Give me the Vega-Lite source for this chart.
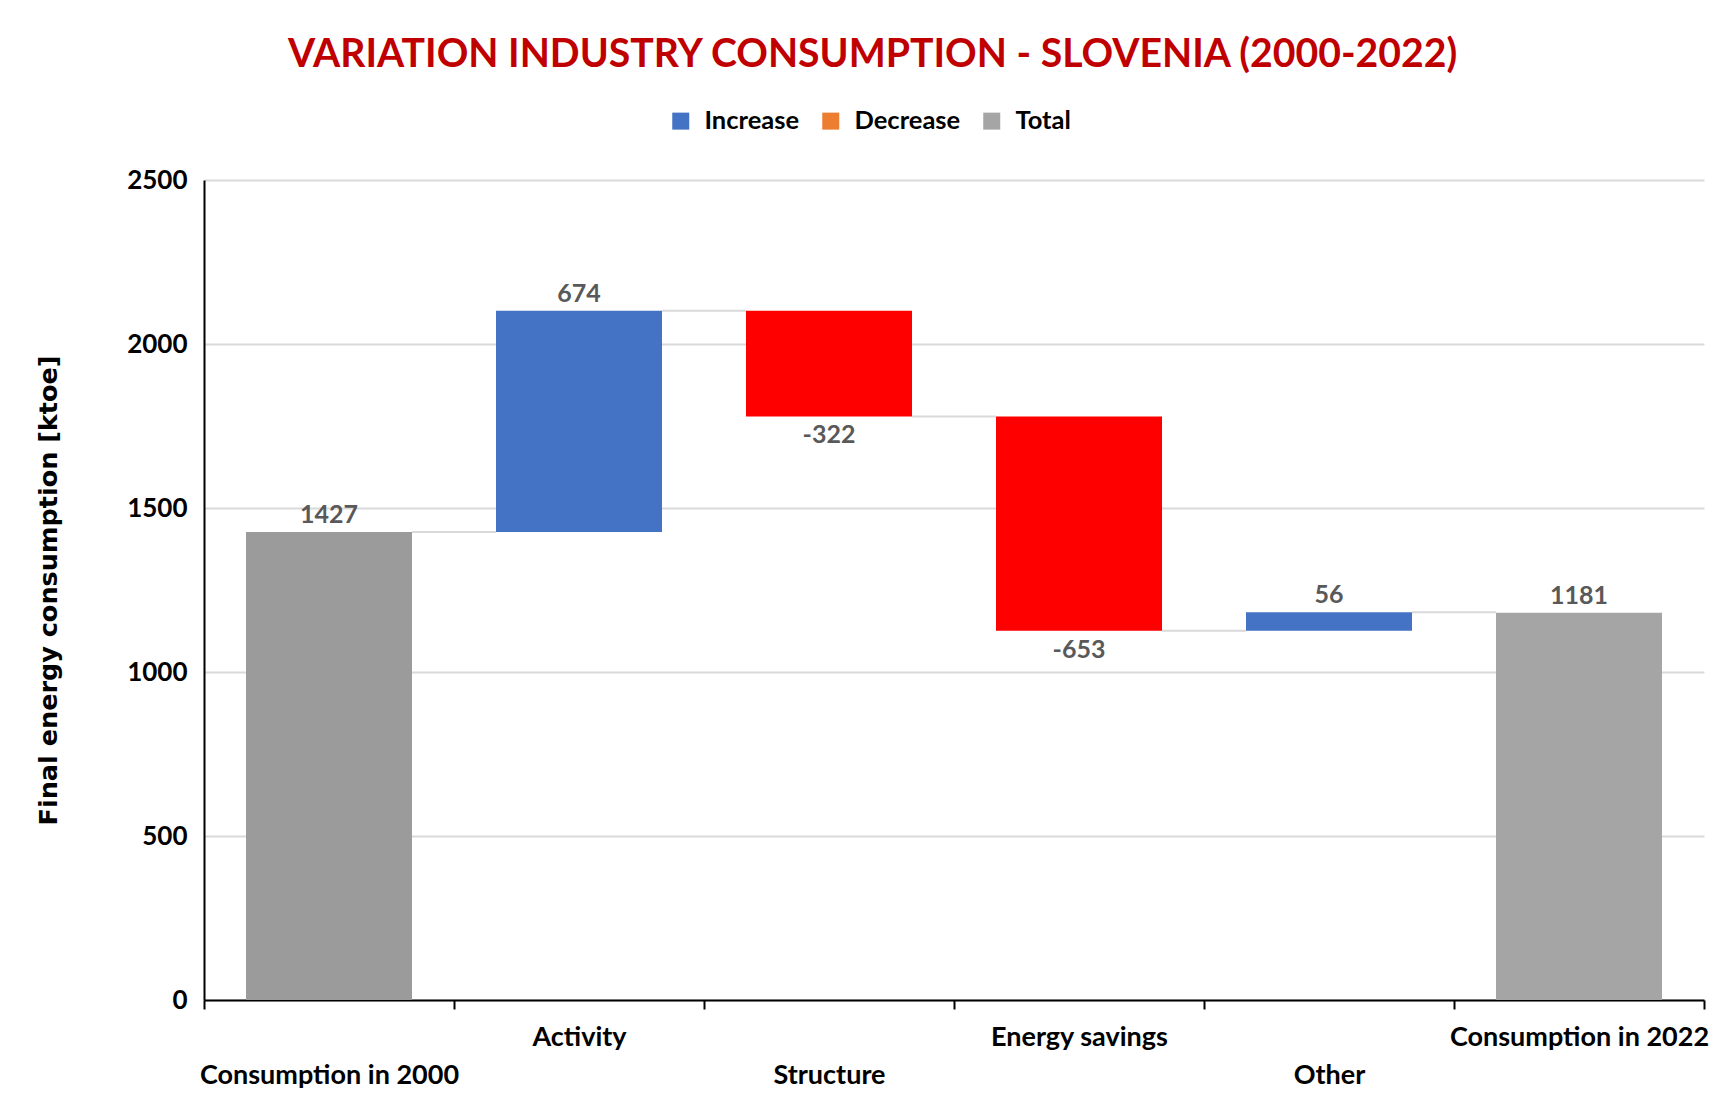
{
  "$schema": "https://vega.github.io/schema/vega-lite/v6.json",
  "width": 1500,
  "height": 820,
  "autosize": {"type": "none"},
  "padding": {"left": 204, "top": 180, "right": 5, "bottom": 97},
  "background": "white",
  "title": {
    "text": "VARIATION INDUSTRY CONSUMPTION - SLOVENIA (2000-2022)",
    "font": "Lato",
    "fontSize": 39.2,
    "fontWeight": "bold",
    "color": "#C00000",
    "anchor": "middle",
    "frame": "bounds",
    "offset": 33
  },
  "config": {
    "view": {"stroke": null},
    "font": "Lato"
  },
  "data": {
    "values": [
      {"cat": "Consumption in 2000", "next": "Activity", "start": 0, "end": 1427, "type": "Total start", "label": "1427"},
      {"cat": "Activity", "next": "Structure", "start": 1427, "end": 2101, "type": "Increase", "label": "674"},
      {"cat": "Structure", "next": "Energy savings", "start": 2101, "end": 1779, "type": "Decrease", "label": "-322"},
      {"cat": "Energy savings", "next": "Other", "start": 1779, "end": 1126, "type": "Decrease", "label": "-653"},
      {"cat": "Other", "next": "Consumption in 2022", "start": 1126, "end": 1182, "type": "Increase", "label": "56"},
      {"cat": "Consumption in 2022", "next": null, "start": 0, "end": 1181, "type": "Total", "label": "1181"}
    ]
  },
  "encoding": {
    "x": {
      "field": "cat",
      "type": "nominal",
      "sort": null,
      "scale": {
        "domain": ["Consumption in 2000", "Activity", "Structure", "Energy savings", "Other", "Consumption in 2022"],
        "paddingInner": 0,
        "paddingOuter": 0
      },
      "axis": {
        "title": null,
        "labelAngle": 0,
        "labelFont": "Lato",
        "labelFontSize": 27,
        "labelFontWeight": "bold",
        "labelColor": "#000000",
        "labelPadding": 15,
        "labelLimit": 0,
        "labelLineHeight": 38,
        "labelExpr": "indexof(['Activity','Energy savings','Consumption in 2022'], datum.value) >= 0 ? datum.value : ['', datum.value]",
        "domainColor": "#000000",
        "domainWidth": 2,
        "ticks": true,
        "tickBand": "extent",
        "tickColor": "#000000",
        "tickWidth": 2,
        "tickSize": 9,
        "grid": false
      }
    }
  },
  "layer": [
    {
      "mark": {"type": "bar", "width": {"band": 0.664}},
      "encoding": {
        "y": {
          "field": "start",
          "type": "quantitative",
          "scale": {"domain": [0, 2500], "nice": false},
          "axis": {
            "title": "Final energy consumption [ktoe]",
            "titleFont": "DejaVu Sans",
            "titleFontSize": 25.5,
            "titleFontWeight": "bold",
            "titleColor": "#000000",
            "titlePadding": 65,
            "values": [0, 500, 1000, 1500, 2000, 2500],
            "format": "d",
            "labelFont": "Lato",
            "labelFontSize": 26,
            "labelFontWeight": "bold",
            "labelColor": "#000000",
            "labelPadding": 17,
            "ticks": false,
            "domainColor": "#000000",
            "domainWidth": 2,
            "grid": true,
            "gridColor": "#D9D9D9",
            "gridWidth": 2
          }
        },
        "y2": {"field": "end"},
        "color": {
          "field": "type",
          "type": "nominal",
          "scale": {
            "domain": ["Increase", "Decrease", "Total", "Total start"],
            "range": ["#4472C4", "#FF0000", "#A5A5A5", "#9B9B9B"]
          },
          "legend": null
        }
      }
    },
    {
      "mark": {"type": "bar", "width": {"band": 0.664}, "opacity": 0},
      "encoding": {
        "y": {"field": "start", "type": "quantitative"},
        "y2": {"field": "end"},
        "color": {
          "field": "type",
          "type": "nominal",
          "scale": {
            "domain": ["Increase", "Decrease", "Total"],
            "range": ["#4472C4", "#ED7D31", "#A5A5A5"]
          },
          "legend": {
            "title": null,
            "orient": "none",
            "direction": "horizontal",
            "legendX": 464,
            "legendY": -72,
            "symbolType": "square",
            "symbolSize": 289,
            "symbolStrokeWidth": 0,
            "symbolOpacity": 1,
            "labelFont": "Lato",
            "labelFontSize": 25.5,
            "labelFontWeight": "bold",
            "labelColor": "#000000",
            "labelOffset": 11,
            "columnPadding": 18
          }
        }
      }
    },
    {
      "transform": [{"filter": "datum.next != null"}],
      "mark": {"type": "rule", "color": "#D9D9D9", "strokeWidth": 2},
      "encoding": {
        "x": {"field": "cat", "type": "nominal", "sort": null, "bandPosition": 0.832},
        "x2": {"field": "next", "bandPosition": 0.168},
        "y": {"field": "end", "type": "quantitative"}
      }
    },
    {
      "transform": [{"filter": "datum.type != 'Decrease'"}],
      "mark": {"type": "text", "font": "Lato", "fontSize": 25, "fontWeight": "bold", "color": "#595959", "baseline": "alphabetic", "dy": -9},
      "encoding": {
        "y": {"field": "end", "type": "quantitative"},
        "text": {"field": "label"}
      }
    },
    {
      "transform": [{"filter": "datum.type == 'Decrease'"}],
      "mark": {"type": "text", "font": "Lato", "fontSize": 25, "fontWeight": "bold", "color": "#595959", "baseline": "alphabetic", "dy": 27},
      "encoding": {
        "y": {"field": "end", "type": "quantitative"},
        "text": {"field": "label"}
      }
    }
  ],
  "resolve": {"scale": {"color": "independent"}}
}
